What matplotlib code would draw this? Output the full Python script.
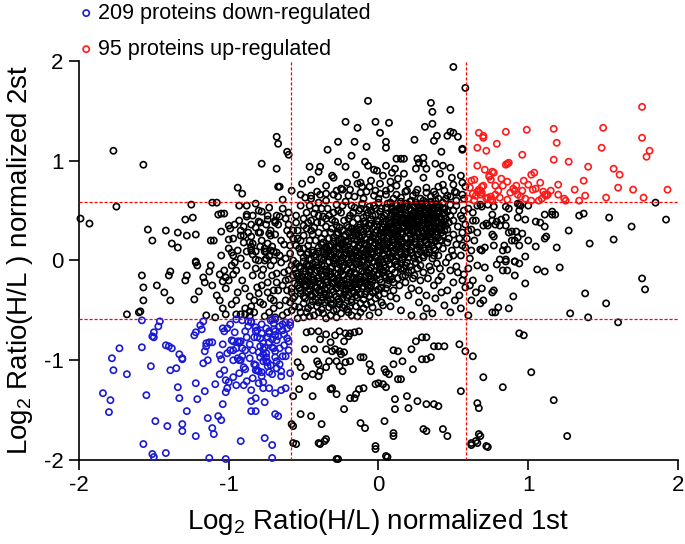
import matplotlib
matplotlib.use("Agg")
import matplotlib.pyplot as plt

plt.rcParams['font.family'] = ['Liberation Sans Narrow', 'Liberation Sans', 'DejaVu Sans']
plt.rcParams['mathtext.fontset'] = 'custom'
plt.rcParams['mathtext.rm'] = 'Liberation Sans'
plt.rcParams['mathtext.it'] = 'Liberation Sans:italic'

threshold = 0.585
x_ticks = [-2, -1, 0, 1, 2]
tick_labels = ['-2', '-1', '0', '1', '2']
legend_labels = ['209 proteins down-regulated', '95 proteins up-regulated']
xlabel = 'Log$_2$ Ratio(H/L) normalized 1st'
ylabel = 'Log$_2$ Ratio(H/L ) normalized 2st'

up_regulated = [
(1.76,1.54),(0.67,1.28),(0.70,1.25),(0.70,1.23),(0.85,1.29),(0.99,1.31),(1.17,1.32),(1.50,1.33),(1.76,1.23),(1.19,1.18),
(0.79,1.17),(0.72,1.10),(1.49,1.13),(1.81,1.10),(1.79,1.04),(0.96,1.06),(1.17,1.01),(1.27,0.99),(0.86,0.97),(0.85,0.96),
(0.87,0.98),(1.40,0.94),(1.57,0.92),(1.61,0.86),(0.77,0.88),(0.74,0.84),(0.75,0.81),(0.82,0.82),(0.86,0.79),(0.83,0.75),
(1.02,0.86),(1.04,0.88),(0.97,0.80),(1.00,0.76),(1.08,0.78),(1.37,0.80),(1.20,0.76),(0.69,0.74),(0.78,0.75),(0.92,0.75),
(0.90,0.72),(0.91,0.70),(1.03,0.71),(1.05,0.72),(1.10,0.69),(1.60,0.73),(1.70,0.71),(1.93,0.71),(0.67,0.71),(0.69,0.68),
(0.68,0.66),(0.78,0.66),(0.75,0.64),(0.72,0.62),(0.76,0.60),(0.95,0.64),(1.13,0.66),(1.12,0.65),(1.20,0.66),(1.09,0.62),
(1.11,0.66),(1.07,0.60),(1.24,0.62),(1.25,0.60),(1.34,0.60),(1.38,0.65),(1.52,0.63),(1.77,0.63),(0.66,1.13),(0.62,0.80),
(0.64,0.81),(0.66,0.69),(0.68,0.70),(0.65,0.65),(0.73,0.63),(0.75,0.61),(0.70,0.75),(0.74,0.85),(0.76,0.89),(0.63,0.67),
(0.88,0.68),(0.98,0.62),(1.15,0.70),(0.81,0.63),(0.93,0.66),(1.02,0.60),(0.60,0.62),(0.71,0.91),(0.66,0.95),(0.64,0.60),
(0.86,0.61),(1.31,0.71),(0.96,0.70),(0.61,0.73),(0.80,0.70),
]

down_regulated = [
(-1.58,-0.60),(-1.46,-0.61),(-1.47,-0.66),(-1.50,-0.72),(-1.51,-0.76),(-1.50,-0.77),(-1.73,-0.88),(-1.58,-0.87),(-1.78,-0.98),(-1.77,-1.10),
(-1.68,-1.14),(-1.52,-1.06),(-1.42,-0.85),(-1.40,-0.86),(-1.38,-0.88),(-1.33,-0.94),(-1.31,-0.98),(-1.31,-0.99),(-1.39,-1.10),(-1.35,-1.08),
(-1.84,-1.33),(-1.79,-1.40),(-1.80,-1.52),(-1.55,-1.35),(-1.49,-1.61),(-1.41,-1.66),(-1.34,-1.27),(-1.33,-1.38),(-1.28,-1.51),(-1.31,-1.64),
(-1.31,-1.71),(-1.57,-1.84),(-1.51,-1.94),(-1.50,-1.97),(-1.42,-1.93),(-1.22,-1.76),(-1.22,-1.23),(-1.21,-1.39),(-1.16,-1.31),(-1.23,-0.75),
(-1.22,-0.72),(-1.19,-0.65),(-1.18,-0.69),(-1.17,-0.61),(-1.15,-0.83),(-1.13,-0.82),(-1.11,-0.82),(-1.15,-0.86),(-1.16,-0.91),(-1.14,-1.00),
(-1.17,-1.03),(-1.09,-1.24),(-1.14,-1.58),(-1.11,-1.68),(-1.10,-1.74),(-1.13,-1.98),(-1.07,-1.56),(-1.05,-1.60),(-1.04,-0.84),(-1.06,-0.95),
(-1.05,-0.99),(-1.06,-1.14),(-1.03,-1.10),(-1.02,-1.20),(-1.01,-1.28),(-1.02,-1.32),(-1.00,-1.22),(-1.04,-0.68),(-1.03,-0.71),(-1.01,-0.68),
(-0.99,-0.90),(-1.01,-0.93),(-0.98,-0.80),(-0.97,-0.81),(-0.95,-0.88),(-0.97,-0.90),(-0.97,-1.00),(-0.97,-1.17),(-0.93,-1.00),(-0.94,-0.98),
(-0.92,-1.00),(-0.94,-0.81),(-0.93,-0.82),(-0.92,-0.81),(-0.91,-0.88),(-0.89,-0.90),(-0.90,-1.07),(-0.89,-1.09),(-0.95,-1.25),(-0.90,-1.25),
(-0.85,-1.30),(-1.04,-1.44),(-1.02,-1.99),(-0.92,-1.81),(-0.85,-1.41),(-0.85,-1.51),(-0.82,-1.51),(-0.84,-0.90),(-0.83,-1.04),(-0.82,-1.05),
(-0.81,-1.10),(-0.82,-1.10),(-0.80,-1.23),(-0.82,-1.38),(-0.89,-0.71),(-0.87,-0.61),(-0.85,-0.62),(-0.82,-0.67),(-0.81,-0.70),(-0.82,-0.71),
(-0.83,-0.77),(-0.81,-0.77),(-0.79,-0.78),(-0.77,-0.83),(-0.77,-0.89),(-0.76,-0.87),(-0.77,-0.94),(-0.79,-0.97),(-0.77,-1.01),(-0.80,-1.11),
(-0.78,-1.16),(-0.78,-1.12),(-0.77,-1.22),(-0.77,-1.28),(-0.75,-0.68),(-0.73,-0.71),(-0.73,-0.73),(-0.74,-0.77),(-0.73,-0.82),(-0.71,-0.87),
(-0.70,-0.88),(-0.69,-0.91),(-0.75,-0.97),(-0.74,-1.02),(-0.75,-1.01),(-0.73,-1.12),(-0.71,-1.14),(-0.73,-1.28),(-0.69,-1.33),(-0.70,-0.69),
(-0.69,-0.71),(-0.69,-0.75),(-0.68,-0.80),(-0.68,-1.01),(-0.69,-0.97),(-0.68,-1.08),(-0.76,-1.78),(-0.71,-1.85),(-0.71,-1.98),(-0.69,-1.54),
(-0.72,-0.60),(-0.71,-0.59),(-0.69,-0.59),(-0.85,-0.61),(-0.95,-0.59),(-0.91,-0.60),(-0.64,-0.64),(-0.64,-0.70),(-0.62,-0.62),(-0.59,-0.62),
(-0.59,-0.65),(-0.63,-0.85),(-0.61,-0.78),(-0.60,-0.81),(-0.64,-0.96),(-0.62,-0.96),(-0.59,-1.13),(-0.65,-1.16),(-0.65,-1.30),(-0.62,-1.28),
(-0.67,-1.56),(-0.66,-0.88),(-0.63,-0.74),(-0.61,-0.68),(-0.67,-0.76),(-0.88,-0.77),(-0.86,-0.84),(-0.80,-0.92),(-0.75,-0.93),(-0.72,-1.05),
(-0.66,-1.04),(-0.91,-0.96),(-0.87,-0.66),(-0.78,-0.64),(-0.96,-0.72),(-0.99,-0.64),(-0.86,-0.98),(-0.74,-1.06),(-0.79,-0.86),(-0.71,-0.79),
(-0.65,-1.11),(-0.84,-1.18),(-0.93,-1.13),(-0.88,-1.21),(-0.60,-0.90),(-0.76,-1.42),(-0.66,-0.66),(-0.70,-0.63),(-0.78,-0.73),
]

black_sparse = [
(-1.77,1.10),(-1.57,0.96),(-1.75,0.54),(-1.99,0.42),(-1.93,0.37),(-1.54,0.31),(-1.51,0.20),(-1.42,0.30),(-1.34,0.28),(-1.38,0.17),
(-1.34,0.13),(-1.28,0.25),(-1.22,0.26),(-1.29,0.41),(-1.24,0.43),(-1.25,0.56),(-1.22,-0.01),(-1.11,0.58),(-1.08,0.58),(-1.12,0.20),
(-1.07,0.46),(-1.05,0.47),(-1.03,0.47),(-1.05,0.29),(-1.00,0.21),(-0.98,0.08),(-0.94,0.73),(-0.91,0.67),(-0.93,0.55),(-0.88,0.55),
(-0.82,0.57),(-0.96,0.36),(-0.92,0.30),(-0.90,0.25),(-0.88,0.44),(-0.84,0.45),(-0.85,0.36),(-0.85,0.24),(-0.84,0.17),(-0.85,0.14),
(-0.88,0.09),(-0.82,0.09),(-0.80,0.50),(-0.78,0.49),(-0.80,0.39),(-0.79,0.28),(-0.73,0.27),(-0.72,0.25),(-0.74,0.17),(-0.79,0.14),
(-0.76,0.09),(-0.75,0.09),(-0.72,0.10),(-0.70,0.09),(-0.70,0.00),(-0.75,0.02),(-0.82,0.01),(-0.69,0.40),(-0.69,0.38),(-0.73,0.53),
(-0.74,0.41),(-0.68,0.45),(-0.78,0.97),(-0.68,1.24),(-0.67,1.17),(-0.68,0.92),(-0.67,0.74),(-0.61,1.09),(-0.60,1.06),(-0.66,0.74),
(-0.64,0.61),
(0.50,1.94),(0.58,1.73),(-0.07,1.60),(0.35,1.58),(0.36,1.49),(0.36,1.37),(0.31,1.34),(0.48,1.51),(-0.22,1.39),(-0.02,1.39),
(0.07,1.38),(-0.14,1.33),(0.01,1.28),(-0.27,1.19),(-0.16,1.19),(-0.08,1.14),(0.05,1.19),(0.05,1.13),(0.24,1.21),(0.37,1.20),
(0.39,1.25),(0.46,1.25),(0.48,1.29),(0.50,1.28),(0.53,1.24),(0.42,1.09),(0.56,1.11),(0.56,1.12),(-0.34,1.11),(-0.18,1.05),
(-0.27,0.99),(-0.22,0.94),(-0.46,0.94),(-0.39,0.94),(-0.40,0.89),(-0.09,0.99),(-0.07,0.95),(-0.03,0.91),(-0.01,0.90),(0.05,0.95),
(0.03,0.85),(0.09,0.88),(0.11,0.92),(0.12,1.02),(0.15,1.02),(0.17,1.02),(0.17,0.87),(0.13,0.82),(0.26,1.02),(0.30,1.03),
(0.27,0.98),(0.30,0.97),(0.25,0.92),(0.32,0.92),(0.38,0.97),(0.43,0.95),(0.48,0.93),(0.41,0.87),(0.49,0.83),(0.55,0.85),
(0.50,0.76),(0.56,0.78),(0.58,0.74),(-0.58,0.70),(-0.51,0.77),(-0.45,0.81),(-0.35,0.75),(-0.31,0.85),(-0.30,0.83),(-0.24,0.71),
(-0.21,0.78),(-0.19,0.71),(-0.14,0.77),(-0.12,0.78),(-0.11,0.74),(-0.06,0.74),(0.01,0.77),(0.08,0.79),(-0.52,0.66),(-0.49,0.63),
(-0.45,0.65),(-0.41,0.69),(-0.39,0.66),(-0.35,0.67),(-0.30,0.66),(-0.27,0.64),(-0.25,0.72),(-0.16,0.64),(-0.08,0.69),(-0.03,0.65),
(0.01,0.67),(0.05,0.70),(0.12,0.66),(0.19,0.70),(0.23,0.65),(0.26,0.71),(0.32,0.68),(0.37,0.69),(0.43,0.76),(0.46,0.65),
(0.51,0.69),(0.56,0.66),
(1.85,0.58),(1.92,0.41),(1.69,0.34),(1.54,0.43),(1.34,0.45),(1.37,0.47),(1.57,0.21),(1.41,0.17),(1.27,0.30),(1.19,0.13),
(1.11,0.46),(1.16,0.46),(1.18,0.46),(1.16,0.49),(1.05,0.39),(1.08,0.38),(1.11,0.34),(1.00,0.55),(0.94,0.56),(0.93,0.57),
(0.98,0.41),(0.93,0.43),(0.94,0.50),(0.95,0.55),(1.12,0.24),(1.11,0.22),(1.00,0.20),(1.05,0.14),(0.98,0.04),(0.85,0.54),
(0.87,0.52),(0.77,0.54),(0.73,0.56),(0.68,0.56),(0.69,0.54),(0.76,0.46),(0.85,0.43),(0.82,0.41),(0.79,0.39),(0.78,0.36),
(0.81,0.35),(0.73,0.35),(0.70,0.35),(0.85,0.35),(0.89,0.29),(0.92,0.29),(0.87,0.28),(0.96,0.27),(0.93,0.23),(0.91,0.20),
(0.94,0.15),(0.89,0.20),(0.84,0.15),(0.86,0.11),(0.83,0.10),(0.77,0.24),(0.76,0.26),(0.76,0.40),(0.72,0.37),(0.71,0.13),
(0.69,0.10),(0.68,0.11),(0.77,0.15),(0.81,0.01),(0.85,0.01),(0.91,-0.01),
(1.76,-0.18),(1.78,-0.29),(1.38,-0.33),(1.52,-0.43),(1.28,-0.53),(1.40,-0.57),(1.60,-0.62),(1.21,-0.07),(1.11,-0.11),(1.06,-0.09),
(0.98,-0.23),(0.91,-0.15),(0.90,-0.36),(0.87,-0.48),(0.80,-0.47),(0.78,-0.52),(0.76,-0.52),(0.77,-0.30),(0.76,-0.32),(0.74,-0.18),
(0.71,-0.07),(0.69,-0.28),(0.70,-0.40),(0.68,-0.43),(0.79,-0.04),(0.83,-0.10),(0.86,-0.10),(0.91,-0.01),(0.94,-0.03),(0.85,-0.01),
(0.94,-0.73),(0.97,-0.75),(1.02,-1.12),(0.70,-1.17),(0.83,-1.27),(1.17,-1.40),(1.26,-1.76),(0.68,-1.76),(0.72,-1.86),
(-0.48,-0.72),(-0.49,-0.89),(-0.43,-0.89),(-0.45,-0.71),(-0.40,-0.71),(-0.35,-0.74),(-0.39,-0.79),(-0.32,-0.82),(-0.29,-0.75),(-0.26,-0.71),
(-0.22,-0.73),(-0.20,-0.76),(-0.19,-0.73),(-0.16,-0.72),(-0.13,-0.71),(-0.23,-0.81),(-0.23,-0.92),(-0.26,-0.91),(-0.29,-0.89),(-0.31,-0.91),
(-0.35,-0.89),(-0.41,-1.01),(-0.40,-1.04),(-0.54,-1.02),(-0.52,-1.07),(-0.44,-1.14),(-0.49,-1.16),(-0.40,-1.16),(-0.39,-1.11),(-0.35,-1.07),
(-0.33,-1.01),(-0.28,-1.01),(-0.26,-1.06),(-0.24,-1.11),(-0.22,-1.02),(-0.19,-1.01),(-0.25,-0.94),(-0.12,-0.97),(-0.10,-0.97),(-0.06,-1.04),
(-0.05,-1.11),(-0.02,-1.24),(0.00,-1.23),(0.03,-1.24),(0.05,-1.27),(0.04,-1.09),(0.05,-1.12),(0.07,-1.14),(0.10,-0.90),(0.13,-0.91),
(0.10,-1.04),(0.16,-1.01),(0.23,-1.09),(0.22,-0.89),(0.25,-0.81),(0.29,-0.77),(0.32,-0.77),(0.37,-0.86),(0.40,-0.86),(0.44,-0.86),
(0.29,-0.99),(0.32,-0.99),(0.35,-0.97),(0.54,-0.84),(0.58,-0.91),(0.63,-0.96),(0.55,-1.31),(0.13,-1.19),(0.15,-1.19),(0.11,-1.39),
(0.19,-1.36),(0.20,-1.48),(0.26,-1.41),(0.32,-1.44),(0.37,-1.44),(0.40,-1.46),(0.11,-1.49),(-0.10,-1.28),(-0.13,-1.29),(-0.15,-1.34),
(-0.19,-1.38),(-0.16,-1.38),(-0.23,-1.49),(-0.31,-1.28),(-0.32,-1.29),(-0.28,-1.34),(-0.44,-1.36),(-0.53,-1.29),(-0.57,-1.36),(-0.52,-1.54),
(-0.45,-1.56),(-0.58,-1.64),(-0.57,-1.66),(-0.38,-1.64),(-0.12,-1.63),(-0.09,-1.68),(0.04,-1.61),(0.10,-1.73),(0.10,-1.76),(-0.02,-1.86),
(0.05,-1.96),(0.30,-1.69),(0.32,-1.71),(0.43,-1.69),(0.46,-1.76),(-0.40,-1.83),(-0.35,-1.79),(-0.57,-1.83),(0.62,-1.83),(0.65,-1.81),
(0.67,-1.74),(0.67,-1.48),(0.66,-1.43),(-0.28,-1.99),(-0.27,-1.99),(0.06,-1.97),(-0.02,-1.89),(-0.55,-1.84),(-0.39,-1.84),(-0.36,-1.81),
(0.62,-1.85),(0.66,-1.83),(0.73,-1.87),
(-1.68,-0.54),(-1.60,-0.52),(-1.59,-0.51),(-1.58,-0.15),(-1.57,-0.27),(-1.57,-0.40),(-1.48,-0.25),(-1.43,-0.32),(-1.40,-0.15),(-1.39,-0.11),
(-1.39,-0.40),(-1.29,-0.20),(-1.28,-0.15),(-1.22,-0.02),(-1.21,-0.05),(-1.23,-0.39),(-1.20,-0.31),(-1.17,-0.17),(-1.16,-0.22),(-1.11,-0.25),
(-1.13,-0.11),(-1.06,-0.14),(-1.04,-0.21),(-1.02,-0.17),(-0.98,-0.05),(-0.97,-0.14),(-1.15,-0.55),(-1.09,-0.57),(-1.02,-0.54),(-0.95,-0.54),
(-0.89,-0.54),(-0.86,-0.51),
]

black_core = [
(0.02,0.52),(0.06,0.57),(0.09,0.51),(0.12,0.55),(0.15,0.59),(0.17,0.52),(0.20,0.56),(0.22,0.50),(0.25,0.58),(0.27,0.53),
(0.29,0.57),(0.31,0.51),(0.33,0.55),(0.35,0.59),(0.37,0.52),(0.39,0.56),(0.41,0.54),(0.43,0.58),(0.30,0.60),(0.24,0.54),
(0.14,0.53),(0.08,0.58),(0.18,0.57),(0.34,0.53),(0.40,0.50),(0.28,0.50),(0.21,0.59),(0.11,0.50),(0.36,0.56),(0.44,0.52),
(-0.03,0.55),(-0.08,0.51),(0.26,0.56),(0.32,0.58),(0.38,0.60),
(-0.10,0.43),(-0.07,0.48),(-0.05,0.41),(-0.02,0.46),(0.01,0.49),(0.03,0.42),(0.05,0.47),(0.08,0.44),(0.10,0.49),(0.12,0.41),
(0.14,0.46),(0.16,0.43),(0.18,0.48),(0.20,0.41),(0.22,0.45),(0.24,0.49),(0.26,0.42),(0.28,0.47),(0.30,0.44),(0.32,0.49),
(0.34,0.41),(0.36,0.46),(0.38,0.43),(0.40,0.48),(0.42,0.41),(0.44,0.45),(0.46,0.49),(0.07,0.40),(0.19,0.44),(0.27,0.50),
(0.33,0.45),(0.11,0.45),(0.23,0.43),(0.35,0.48),(0.41,0.44),(0.02,0.44),(-0.04,0.45),(0.15,0.49),(0.29,0.41),(0.39,0.40),
(0.45,0.42),(0.13,0.43),(0.25,0.46),(0.31,0.42),(0.37,0.49),
(-0.20,0.33),(-0.17,0.38),(-0.15,0.31),(-0.12,0.36),(-0.10,0.39),(-0.08,0.32),(-0.05,0.37),(-0.03,0.34),(0.00,0.39),(0.02,0.31),
(0.04,0.36),(0.06,0.33),(0.08,0.38),(0.10,0.31),(0.12,0.35),(0.14,0.39),(0.16,0.32),(0.18,0.37),(0.20,0.34),(0.22,0.39),
(0.24,0.31),(0.26,0.36),(0.28,0.33),(0.30,0.38),(0.32,0.31),(0.34,0.35),(0.36,0.39),(0.38,0.32),(0.40,0.37),(0.42,0.34),
(0.44,0.39),(0.46,0.31),(-0.13,0.33),(-0.01,0.36),(0.09,0.34),(0.17,0.40),(0.25,0.34),(0.33,0.37),(0.41,0.31),(0.05,0.39),
(0.13,0.30),(0.21,0.32),(0.29,0.35),(0.37,0.35),(0.43,0.36),(-0.06,0.35),(0.11,0.38),(0.19,0.36),(0.27,0.39),(0.35,0.33),
(0.03,0.33),(-0.09,0.37),(0.39,0.39),(0.23,0.36),
(-0.30,0.23),(-0.27,0.28),(-0.25,0.21),(-0.22,0.26),(-0.20,0.29),(-0.18,0.22),(-0.15,0.27),(-0.13,0.24),(-0.10,0.29),(-0.08,0.21),
(-0.06,0.26),(-0.04,0.23),(-0.02,0.28),(0.00,0.21),(0.02,0.25),(0.04,0.29),(0.06,0.22),(0.08,0.27),(0.10,0.24),(0.12,0.29),
(0.14,0.21),(0.16,0.26),(0.18,0.23),(0.20,0.28),(0.22,0.21),(0.24,0.25),(0.26,0.29),(0.28,0.22),(0.30,0.27),(0.32,0.24),
(0.34,0.29),(0.36,0.21),(0.38,0.26),(0.40,0.23),(0.42,0.28),(-0.23,0.24),(-0.11,0.25),(0.01,0.27),(0.13,0.25),(0.25,0.22),
(0.33,0.26),(-0.17,0.29),(-0.05,0.20),(0.07,0.25),(0.19,0.30),(0.31,0.20),(0.39,0.29),(-0.28,0.26),(-0.14,0.20),(0.03,0.23),
(0.15,0.28),(0.27,0.26),(0.35,0.24),(-0.01,0.30),(0.09,0.21),(0.21,0.26),(0.41,0.20),
(-0.40,0.13),(-0.37,0.18),(-0.35,0.11),(-0.32,0.16),(-0.30,0.19),(-0.28,0.12),(-0.25,0.17),(-0.23,0.14),(-0.20,0.19),(-0.18,0.11),
(-0.16,0.16),(-0.14,0.13),(-0.12,0.18),(-0.10,0.11),(-0.08,0.15),(-0.06,0.19),(-0.04,0.12),(-0.02,0.17),(0.00,0.14),(0.02,0.19),
(0.04,0.11),(0.06,0.16),(0.08,0.13),(0.10,0.18),(0.12,0.11),(0.14,0.15),(0.16,0.19),(0.18,0.12),(0.20,0.17),(0.22,0.14),
(0.24,0.19),(0.26,0.11),(0.28,0.16),(0.30,0.13),(0.32,0.18),(0.34,0.11),(0.36,0.15),(0.38,0.19),(-0.33,0.14),(-0.21,0.15),
(-0.09,0.17),(0.03,0.15),(0.15,0.12),(0.27,0.14),(-0.27,0.19),(-0.15,0.10),(-0.03,0.15),(0.09,0.20),(0.21,0.10),(0.33,0.16),
(-0.38,0.16),(-0.26,0.13),(-0.13,0.15),(0.01,0.10),(0.13,0.17),(0.25,0.16),(0.37,0.12),(-0.07,0.13),(0.07,0.18),(0.19,0.15),
(0.31,0.10),
(-0.50,0.03),(-0.47,0.08),(-0.45,0.01),(-0.42,0.06),(-0.40,0.09),(-0.38,0.02),(-0.35,0.07),(-0.33,0.04),(-0.30,0.09),(-0.28,0.01),
(-0.26,0.06),(-0.24,0.03),(-0.22,0.08),(-0.20,0.01),(-0.18,0.05),(-0.16,0.09),(-0.14,0.02),(-0.12,0.07),(-0.10,0.04),(-0.08,0.09),
(-0.06,0.01),(-0.04,0.06),(-0.02,0.03),(0.00,0.08),(0.02,0.01),(0.04,0.05),(0.06,0.09),(0.08,0.02),(0.10,0.07),(0.12,0.04),
(0.14,0.09),(0.16,0.01),(0.18,0.06),(0.20,0.03),(0.22,0.08),(0.24,0.02),(0.26,0.06),(0.28,0.09),(0.30,0.03),(0.32,0.07),
(-0.43,0.04),(-0.31,0.05),(-0.19,0.07),(-0.07,0.05),(0.05,0.02),(0.17,0.04),(-0.37,0.09),(-0.25,0.00),(-0.13,0.05),(-0.01,0.10),
(0.11,0.00),(0.23,0.05),(-0.48,0.06),(-0.36,0.03),(-0.23,0.05),(-0.11,0.10),(0.03,0.07),(0.15,0.06),(0.27,0.01),(-0.17,0.03),
(-0.05,0.08),(0.09,0.04),
(-0.55,-0.03),(-0.52,-0.08),(-0.50,-0.01),(-0.47,-0.06),(-0.45,-0.09),(-0.42,-0.02),(-0.40,-0.07),(-0.38,-0.04),(-0.35,-0.09),(-0.33,-0.01),
(-0.31,-0.06),(-0.29,-0.03),(-0.27,-0.08),(-0.25,-0.01),(-0.23,-0.05),(-0.21,-0.09),(-0.19,-0.02),(-0.17,-0.07),(-0.15,-0.04),(-0.13,-0.09),
(-0.11,-0.01),(-0.09,-0.06),(-0.07,-0.03),(-0.05,-0.08),(-0.03,-0.01),(-0.01,-0.05),(0.01,-0.09),(0.03,-0.02),(0.05,-0.07),(0.07,-0.04),
(0.09,-0.09),(0.11,-0.01),(0.13,-0.06),(0.15,-0.03),(0.17,-0.08),(0.19,-0.02),(0.21,-0.06),(-0.48,-0.04),(-0.36,-0.05),(-0.24,-0.07),
(-0.12,-0.05),(0.00,-0.02),(0.12,-0.04),(-0.53,-0.06),(-0.41,-0.10),(-0.30,-0.00),(-0.18,-0.05),(-0.06,-0.10),(0.06,-0.00),(0.18,-0.05),
(-0.44,-0.03),(-0.32,-0.08),(-0.20,-0.03),(-0.08,-0.04),(0.04,-0.05),(0.16,-0.10),
(-0.55,-0.13),(-0.52,-0.18),(-0.50,-0.11),(-0.47,-0.16),(-0.45,-0.19),(-0.42,-0.12),(-0.40,-0.17),(-0.38,-0.14),(-0.35,-0.19),(-0.33,-0.11),
(-0.31,-0.16),(-0.29,-0.13),(-0.27,-0.18),(-0.25,-0.11),(-0.23,-0.15),(-0.21,-0.19),(-0.19,-0.12),(-0.17,-0.17),(-0.15,-0.14),(-0.13,-0.19),
(-0.11,-0.11),(-0.09,-0.16),(-0.07,-0.13),(-0.05,-0.18),(-0.03,-0.11),(-0.01,-0.15),(0.01,-0.19),(0.03,-0.12),(0.05,-0.17),(0.07,-0.14),
(0.09,-0.19),(0.11,-0.12),(-0.49,-0.14),(-0.37,-0.16),(-0.24,-0.14),(-0.12,-0.16),(0.00,-0.13),(-0.43,-0.19),(-0.32,-0.14),(-0.20,-0.16),
(-0.08,-0.11),(0.04,-0.15),(-0.54,-0.16),(-0.46,-0.12),(-0.28,-0.20),(-0.16,-0.12),(-0.04,-0.14),(0.08,-0.16),
(-0.56,-0.23),(-0.53,-0.28),(-0.51,-0.21),(-0.48,-0.26),(-0.46,-0.29),(-0.43,-0.22),(-0.41,-0.27),(-0.39,-0.24),(-0.36,-0.29),(-0.34,-0.21),
(-0.32,-0.26),(-0.30,-0.23),(-0.28,-0.28),(-0.26,-0.21),(-0.24,-0.25),(-0.22,-0.29),(-0.20,-0.22),(-0.18,-0.27),(-0.16,-0.24),(-0.14,-0.29),
(-0.12,-0.21),(-0.10,-0.26),(-0.08,-0.23),(-0.06,-0.28),(-0.04,-0.21),(-0.02,-0.25),(0.00,-0.29),(0.02,-0.22),(-0.49,-0.24),(-0.37,-0.25),
(-0.25,-0.27),(-0.13,-0.24),(-0.44,-0.20),(-0.31,-0.29),(-0.19,-0.25),(-0.07,-0.25),(-0.54,-0.25),(-0.40,-0.21),(-0.27,-0.24),(-0.15,-0.21),
(-0.52,-0.33),(-0.49,-0.38),(-0.47,-0.31),(-0.44,-0.36),(-0.42,-0.39),(-0.39,-0.32),(-0.37,-0.37),(-0.35,-0.34),(-0.32,-0.39),(-0.30,-0.31),
(-0.28,-0.36),(-0.26,-0.33),(-0.24,-0.38),(-0.22,-0.31),(-0.20,-0.35),(-0.18,-0.39),(-0.16,-0.32),(-0.14,-0.37),(-0.12,-0.34),(-0.10,-0.39),
(-0.08,-0.31),(-0.06,-0.36),(-0.45,-0.34),(-0.33,-0.35),(-0.21,-0.37),(-0.09,-0.34),(-0.50,-0.36),(-0.38,-0.30),(-0.27,-0.39),(-0.15,-0.35),
(-0.50,-0.43),(-0.47,-0.48),(-0.44,-0.41),(-0.41,-0.46),(-0.38,-0.49),(-0.36,-0.42),(-0.33,-0.47),(-0.31,-0.44),(-0.28,-0.49),(-0.26,-0.41),
(-0.23,-0.45),(-0.21,-0.49),(-0.18,-0.42),(-0.15,-0.46),(-0.12,-0.43),(-0.45,-0.45),(-0.34,-0.40),(-0.24,-0.47),(-0.53,-0.47),(-0.40,-0.42),
]

black_core_dense = [
(-0.29,0.02),(-0.26,-0.04),(-0.22,0.12),(-0.19,-0.13),(-0.16,0.21),(-0.13,-0.02),(-0.09,0.08),(-0.06,-0.15),(-0.03,0.25),(0.01,-0.06),
(0.04,0.17),(0.07,0.06),(0.10,0.33),(0.13,0.13),(0.16,0.40),(0.19,0.08),(0.22,0.30),(0.25,0.44),(0.28,0.18),(0.31,0.47),
(0.34,0.32),(0.37,0.44),(0.40,0.33),(0.43,0.52),(-0.27,-0.14),(-0.24,0.16),(-0.21,-0.24),(-0.18,0.03),(-0.15,-0.19),(-0.12,0.22),
(-0.09,-0.22),(-0.06,0.11),(-0.03,-0.17),(0.00,0.18),(0.03,-0.10),(0.06,0.29),(0.09,0.15),(0.12,0.38),(0.15,0.22),(0.18,0.45),
(0.21,0.18),(0.24,0.37),(0.27,0.46),(0.30,0.24),(0.33,0.42),(0.36,0.29),(0.39,0.47),(0.42,0.38),(-0.35,0.14),(-0.39,-0.10),
(-0.42,-0.27),(-0.46,-0.05),(-0.49,-0.20),(-0.52,-0.30),(-0.44,0.08),(-0.36,-0.33),(-0.31,-0.23),(-0.33,0.10),(-0.23,-0.34),(-0.17,-0.31),
(-0.11,-0.28),(-0.04,-0.32),(0.02,-0.27),(0.07,-0.20),(-0.01,0.40),(0.04,0.45),(0.09,0.47),(0.14,0.51),(0.19,0.54),(0.23,0.47),
(0.28,0.53),(0.32,0.56),(0.36,0.51),(0.40,0.55),(0.44,0.48),(0.35,0.45),(0.30,0.40),(0.26,0.33),(0.21,0.40),(0.17,0.35),
(0.12,0.27),(0.08,0.31),(0.03,0.28),(-0.02,0.22),(-0.07,0.29),(-0.12,0.31),(-0.17,0.25),(-0.22,0.19),(-0.27,0.14),(-0.32,0.07),
(-0.37,0.00),(-0.41,-0.05),(-0.46,-0.10),(-0.51,-0.16),(-0.47,-0.22),(-0.42,-0.33),(-0.38,-0.40),(-0.32,-0.43),(-0.26,-0.44),(-0.19,-0.46),
]

black_mid = [
(-1.08,-0.35),(-1.05,0.05),(-1.02,-0.28),(-1.00,0.12),(-0.98,-0.44),(-0.97,0.22),(-0.95,-0.10),(-0.94,-0.32),(-0.93,0.40),(-0.92,0.02),
(-0.91,-0.20),(-0.90,0.18),(-0.89,-0.48),(-0.88,-0.05),(-0.87,0.28),(-0.86,-0.36),(-0.85,0.10),(-0.84,-0.15),(-0.83,-0.52),(-0.82,0.33),
(-0.81,-0.27),(-0.80,0.00),(-0.79,-0.42),(-0.78,0.20),(-0.77,-0.09),(-0.76,-0.56),(-0.75,0.36),(-0.74,-0.22),(-0.73,0.05),(-0.72,-0.38),
(-0.71,0.14),(-0.70,-0.48),(-0.69,0.26),(-0.68,-0.13),(-0.67,-0.30),(-0.66,0.44),(-0.65,-0.02),(-0.64,-0.55),(-0.63,0.16),(-0.62,-0.40),
(-0.61,0.30),(-0.60,-0.19),(-0.59,0.07),(-0.58,-0.50),(-0.57,0.22),(-0.56,-0.36),(-0.55,0.38),(-0.54,-0.58),(-0.53,0.12),(-0.52,-0.52),
(-0.96,-0.02),(-0.92,-0.54),(-0.88,0.46),(-0.84,0.06),(-0.80,-0.33),(-0.76,0.12),(-0.72,-0.05),(-0.68,0.08),(-0.64,-0.25),(-0.60,0.48),
(-0.56,-0.08),(-0.86,-0.56),(-0.82,-0.08),(-0.78,-0.25),(-0.74,0.45),(-0.70,-0.30),(-0.66,-0.45),(-0.62,0.02),(-0.58,-0.28),(-0.54,0.30),
(-0.90,0.34),(-0.94,0.10),(-1.00,-0.20),(-1.04,-0.48),(-1.10,0.20),(-1.12,-0.05),(-0.99,0.32),(-0.71,-0.15),(-0.63,-0.12),(-0.57,0.00),
(-0.67,0.36),(-0.79,0.38),(-0.85,-0.46),(-0.73,-0.52),(-0.61,-0.52),(-0.69,-0.57),(-0.77,-0.44),(-0.65,0.20),(-0.59,0.26),(-0.53,-0.20),
(-0.50,0.42),(-0.46,0.55),(-0.43,0.47),(-0.40,0.58),(-0.37,0.44),(-0.34,0.52),(-0.31,0.41),(-0.28,0.56),(-0.25,0.48),(-0.22,0.59),
(-0.19,0.45),(-0.16,0.53),(-0.13,0.50),(-0.11,0.57),(-0.48,0.32),(-0.44,0.26),(-0.41,0.38),(-0.38,0.22),(-0.35,0.34),(-0.32,0.28),
(-0.29,0.39),(-0.26,0.33),(-0.23,0.40),(-0.52,0.20),(-0.47,0.15),(-0.44,0.10),(-0.50,0.25),(-0.42,0.52),(-0.30,0.48),(-0.18,0.55),
(-0.06,0.54),(0.00,0.58),(-0.35,0.60),(-0.20,0.65),(-0.10,0.62),(0.05,0.66),(0.15,0.63),(0.25,0.68),(0.35,0.64),(0.45,0.62),
(0.52,0.60),(0.48,0.56),(0.50,0.50),(0.55,0.45),(-0.45,0.62),(-0.28,0.70),(0.08,0.72),(0.20,0.77),(0.40,0.74),(-0.05,0.80),
(0.30,0.83),(-0.15,0.86),(0.52,0.68),(0.57,0.62),
(0.44,0.30),(0.47,0.38),(0.50,0.26),(0.53,0.34),(0.56,0.42),(0.59,0.22),(0.62,0.31),(0.65,0.40),(0.46,0.18),(0.49,0.10),
(0.52,0.16),(0.55,0.05),(0.58,0.13),(0.61,0.02),(0.64,0.20),(0.40,0.05),(0.43,0.12),(0.36,0.02),(0.34,-0.06),(0.39,-0.03),
(0.45,-0.02),(0.48,-0.10),(0.52,-0.06),(0.57,-0.14),(0.60,-0.08),(0.63,-0.20),(0.66,-0.05),(0.26,-0.08),(0.30,-0.12),(0.24,-0.15),
(0.28,-0.20),(0.33,-0.18),(0.37,-0.25),(0.42,-0.16),(0.46,-0.30),(0.50,-0.22),(0.54,-0.35),(0.58,-0.27),(0.62,-0.40),(0.65,-0.32),
(0.20,-0.12),(0.16,-0.16),(0.18,-0.22),(0.14,-0.25),(0.22,-0.28),(0.10,-0.30),(0.06,-0.24),(0.04,-0.33),(0.12,-0.38),(0.20,-0.35),
(0.27,-0.42),(0.32,-0.48),(0.38,-0.38),(0.44,-0.45),(0.48,-0.52),(0.55,-0.48),(0.60,-0.55),(0.02,-0.42),(0.08,-0.46),(0.15,-0.50),
(0.22,-0.55),(0.30,-0.56),(0.36,-0.53),(-0.02,-0.38),(-0.04,-0.47),(0.00,-0.52),(-0.08,-0.44),(-0.06,-0.55),(-0.12,-0.52),(-0.18,-0.55),
(-0.25,-0.53),(-0.32,-0.55),(-0.40,-0.52),(-0.46,-0.56),(0.58,0.36),(0.63,0.48),(0.66,0.55),(0.60,0.52),(0.56,0.28),(0.42,0.20),
(0.47,0.03),(0.38,0.10),(0.35,0.20),(0.62,0.10),(0.66,0.28),
]

black_extra = [
(-0.58,-0.05),(-0.57,-0.15),(-0.58,-0.32),(-0.59,-0.42),(-0.56,-0.46),(-0.60,-0.10),(-0.61,-0.30),(-0.62,-0.20),(-0.57,-0.38),(-0.59,0.15),
(-0.48,-0.52),(-0.43,-0.55),(-0.37,-0.53),(-0.30,-0.50),(-0.20,-0.52),(-0.10,-0.48),(-0.14,-0.56),(-0.28,-0.57),(-0.50,-0.57),(-0.35,-0.58),
(-0.05,-0.42),(0.00,-0.35),(0.05,-0.28),(0.08,-0.36),(0.03,-0.45),(-0.02,-0.31),(0.10,-0.22),(0.13,-0.18),(0.15,-0.08),(0.18,-0.15),
(0.22,-0.10),(0.25,-0.02),(0.28,-0.05),(0.23,-0.18),(0.27,-0.30),(0.32,-0.35),(0.35,-0.10),(0.40,-0.20),(0.41,-0.08),(0.30,0.05),
(0.34,0.08),(0.37,0.05),(0.40,0.15),(0.43,0.25),(0.47,0.22),(0.45,0.35),(0.48,0.45),(0.50,0.40),(0.52,0.55),(0.54,0.22),
(0.57,0.50),(0.50,0.05),(0.53,-0.12),(0.56,0.15),(0.60,0.30),(0.63,0.40),(0.61,-0.25),(0.56,-0.20),(0.51,-0.40),(0.42,-0.32),
(-0.55,0.45),(-0.52,0.55),(-0.48,0.48),(-0.45,0.40),(-0.40,0.45),(-0.38,0.52),(-0.33,0.45),(-0.27,0.50),(-0.24,0.55),(-0.20,0.42),
(-0.17,0.48),(-0.14,0.42),(-0.08,0.45),(-0.12,0.52),(-0.05,0.50),(-0.02,0.52),(-0.45,0.30),(-0.42,0.20),(-0.40,0.28),(-0.36,0.27),
(-0.33,0.22),(-0.31,0.32),(-0.28,0.35),(-0.24,0.30),(-0.21,0.35),(-0.18,0.32),(-0.46,0.20),(-0.50,0.12),(-0.52,0.08),(-0.55,0.15),
(-0.57,0.30),(-0.54,0.22),(-0.50,0.35),(-0.47,0.38),(-0.43,0.33),(-0.38,0.38),(-0.35,0.42),(-0.60,0.36),(-0.62,0.42),(-0.64,0.52),
(-0.66,0.05),(-0.68,-0.22),(-0.70,-0.40),(-0.72,0.30),(-0.74,-0.32),(-0.76,0.00),(-0.78,-0.15),(-0.80,0.28),(-0.83,-0.40),(-0.86,0.18),
(-0.89,-0.28),(-0.92,0.25),(-0.95,-0.40),(-0.97,0.05),(-1.00,0.35),(-1.03,-0.10),(-1.06,-0.40),(0.10,0.62),(0.18,0.69),(0.28,0.62),
(0.38,0.66),(0.44,0.70),(-0.02,0.70),(-0.12,0.68),(0.00,0.62),(0.22,0.60),(0.32,0.73),(0.48,0.64),(0.40,0.62),(0.12,0.75),
(0.05,0.30),(0.11,0.28),(0.17,0.33),(0.23,0.29),(0.29,0.30),(0.35,0.27),(0.07,0.37),(0.13,0.36),(0.19,0.41),(0.25,0.39),
(0.31,0.36),(0.37,0.41),(0.43,0.47),(0.39,0.53),(0.33,0.52),(0.27,0.55),(0.21,0.52),(0.15,0.55),(0.09,0.54),(0.05,0.53),
(-0.35,-0.12),(-0.30,-0.18),(-0.25,-0.23),(-0.20,-0.28),(-0.15,-0.27),(-0.10,-0.20),(-0.05,-0.25),(-0.45,-0.25),(-0.40,-0.30),(-0.35,-0.22),
(-0.30,0.00),(-0.25,0.05),(-0.20,0.10),(-0.15,0.05),(-0.10,0.00),(-0.05,0.03),(0.00,0.00),(0.05,0.12),(0.10,0.10),(0.15,0.18),
]

black = black_sparse + black_core + black_core_dense + black_mid + black_extra

fig = plt.figure(figsize=(6.85, 5.44), dpi=100)
ax = fig.add_axes([0.1153, 0.1544, 0.8745, 0.7335])

marker_kw = dict(s=20, facecolors='none', linewidths=1.2, clip_on=False, zorder=3)
bx, by = zip(*black)
ax.scatter(bx, by, edgecolors='black', **marker_kw)
dx, dy = zip(*down_regulated)
sc_down = ax.scatter(dx, dy, edgecolors='#1a1ad6', **marker_kw)
ux, uy = zip(*up_regulated)
sc_up = ax.scatter(ux, uy, edgecolors='#ff1a1a', **marker_kw)

for t in (-threshold, threshold):
    ax.axvline(t, color='red', linestyle=(0, (2.5, 1.5)), linewidth=0.9, zorder=4)
    ax.axhline(t, color='red', linestyle=(0, (2.5, 1.5)), linewidth=0.9, zorder=4)

ax.set_xlim(-2, 2)
ax.set_ylim(-2, 2)
ax.set_xticks(x_ticks)
ax.set_yticks(x_ticks)
ax.set_xticklabels(tick_labels)
ax.set_yticklabels(tick_labels)
for side in ('top', 'right'):
    ax.spines[side].set_visible(False)
for side in ('left', 'bottom'):
    ax.spines[side].set_linewidth(1.2)
ax.tick_params(direction='out', length=7, width=1.2, labelsize=16, pad=4)
ax.set_xlabel(xlabel, fontsize=20, labelpad=8)
ax.set_ylabel(ylabel, fontsize=20, labelpad=6)

ax.legend(handles=[sc_down, sc_up], labels=legend_labels, loc='upper left',
          bbox_to_anchor=(0.118, 0.995), bbox_transform=fig.transFigure,
          frameon=False, borderpad=0, borderaxespad=0, handlelength=0.5,
          handletextpad=0.3, labelspacing=0.7, fontsize=15.5, scatterpoints=1)

fig.savefig('out.png', dpi=100)
